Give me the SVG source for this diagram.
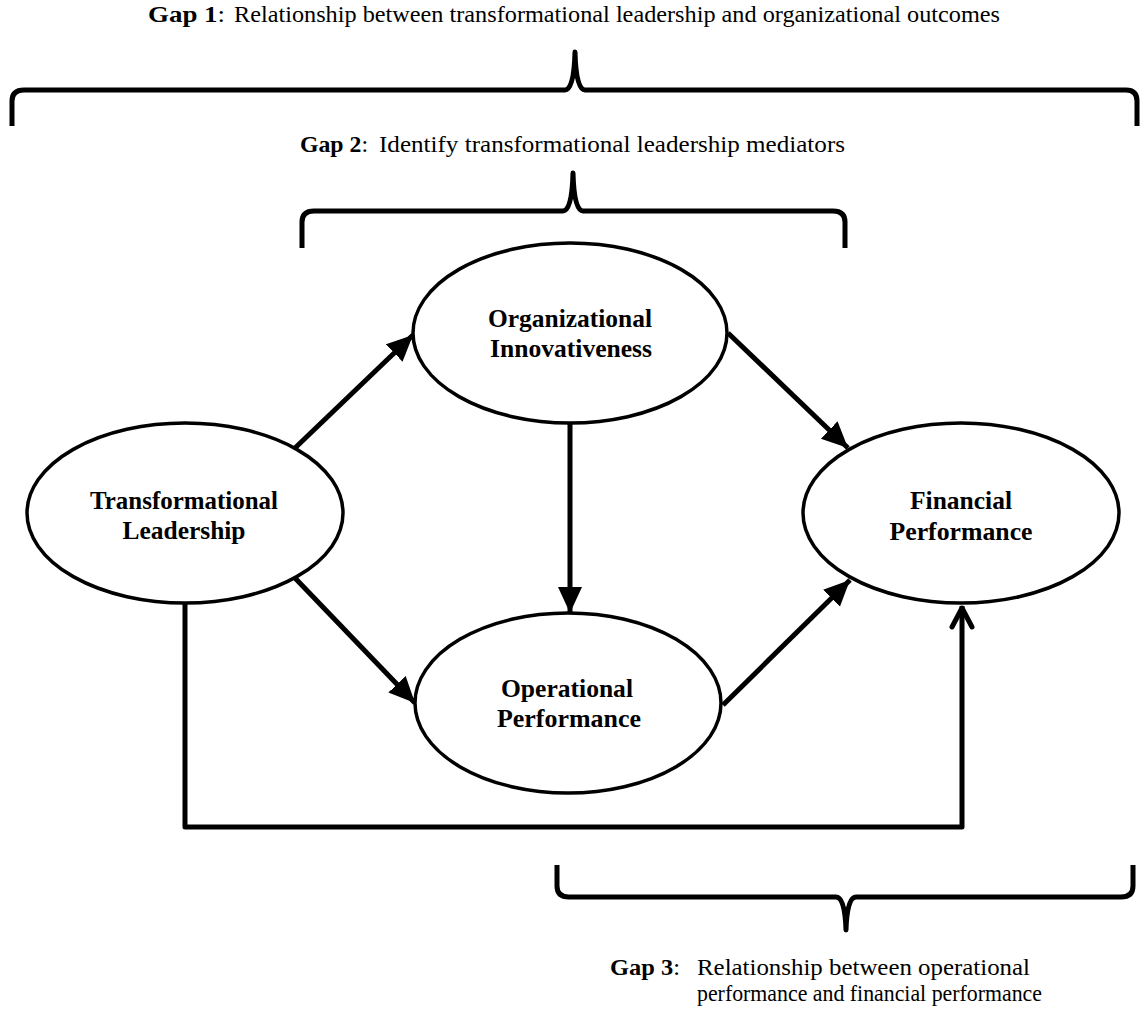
<svg xmlns="http://www.w3.org/2000/svg" width="1141" height="1011" viewBox="0 0 1141 1011">
<style>
.node{fill:#fff;stroke:#000;stroke-width:3.5}
.lbl{font-family:"Liberation Serif","Times New Roman",serif;font-weight:bold;font-size:26px;text-anchor:middle;fill:#000}
.gap{font-family:"Liberation Serif","Times New Roman",serif;font-size:23px;fill:#000}
.b{font-weight:bold}
.conn{fill:none;stroke:#000;stroke-width:5}
.brace{fill:none;stroke:#000;stroke-width:5;stroke-linejoin:round;stroke-linecap:butt}
</style>
<defs>
<marker id="ah" markerUnits="userSpaceOnUse" markerWidth="30" markerHeight="26" refX="26" refY="12" orient="auto">
<path d="M0,0 L26,12 L0,24 Z" fill="#000"/>
</marker>
</defs>
<rect width="1141" height="1011" fill="#fff"/>
<g id="gap1">
<text class="gap" x="148" y="22" textLength="77" lengthAdjust="spacingAndGlyphs"><tspan class="b">Gap 1</tspan>:</text>
<text class="gap" x="234" y="22" textLength="766" lengthAdjust="spacingAndGlyphs">Relationship between transformational leadership and organizational outcomes</text>
<path class="brace" d="M12,126 L12,101 Q12,90 24,90 L565,90 Q574,90 575,52 Q576,90 585,90 L1126,90 Q1137,90 1137,101 L1137,126"/>
</g>
<g id="gap2">
<text class="gap" x="300" y="152" textLength="68" lengthAdjust="spacingAndGlyphs"><tspan class="b">Gap 2</tspan>:</text>
<text class="gap" x="379" y="152" textLength="466" lengthAdjust="spacingAndGlyphs">Identify transformational leadership mediators</text>
<path class="brace" d="M302,248 L302,222 Q302,211 314,211 L563,211 Q572,211 573,173 Q574,211 583,211 L833,211 Q845,211 845,222 L845,248"/>
</g>
<g id="gap3">
<path class="brace" d="M557,865 L557,886 Q557,897 569,897 L836,897 Q845,897 846,930 Q847,897 856,897 L1121,897 Q1133,897 1133,886 L1133,865"/>
<text class="gap" x="610" y="975" textLength="70" lengthAdjust="spacingAndGlyphs"><tspan class="b">Gap 3</tspan>:</text>
<text class="gap" x="697" y="975" textLength="333" lengthAdjust="spacingAndGlyphs">Relationship between operational</text>
<text class="gap" x="697" y="1001" textLength="345" lengthAdjust="spacingAndGlyphs">performance and financial performance</text>
</g>
<g id="connectors">
<path class="conn" d="M295,448 L413,335" marker-end="url(#ah)"/>
<path class="conn" d="M728,333 L848,448" marker-end="url(#ah)"/>
<path class="conn" d="M570,423 L570,613" marker-end="url(#ah)"/>
<path class="conn" d="M295,578 L415,703" marker-end="url(#ah)"/>
<path class="conn" d="M723,705 L850,580" marker-end="url(#ah)"/>
<path class="conn" d="M185,603 V827 H962 V606" stroke-linejoin="round"/>
<path class="conn" d="M952,627 L962,608 L972,627" stroke-width="4.5" stroke-linecap="round" stroke-linejoin="round"/>
</g>
<g id="node-tl">
<ellipse class="node" cx="185" cy="513" rx="158" ry="90"/>
<text class="lbl" x="184" y="509" textLength="188" lengthAdjust="spacingAndGlyphs">Transformational</text>
<text class="lbl" x="184" y="539" textLength="123" lengthAdjust="spacingAndGlyphs">Leadership</text>
</g>
<g id="node-oi">
<ellipse class="node" cx="570" cy="333" rx="157" ry="90"/>
<text class="lbl" x="570" y="327" textLength="164" lengthAdjust="spacingAndGlyphs">Organizational</text>
<text class="lbl" x="571" y="357" textLength="162" lengthAdjust="spacingAndGlyphs">Innovativeness</text>
</g>
<g id="node-op">
<ellipse class="node" cx="568" cy="703" rx="153" ry="90"/>
<text class="lbl" x="567" y="697" textLength="132" lengthAdjust="spacingAndGlyphs">Operational</text>
<text class="lbl" x="569" y="727" textLength="144" lengthAdjust="spacingAndGlyphs">Performance</text>
</g>
<g id="node-fp">
<ellipse class="node" cx="961" cy="513" rx="158" ry="90"/>
<text class="lbl" x="961" y="509" textLength="102" lengthAdjust="spacingAndGlyphs">Financial</text>
<text class="lbl" x="961" y="540" textLength="143" lengthAdjust="spacingAndGlyphs">Performance</text>
</g>
</svg>
